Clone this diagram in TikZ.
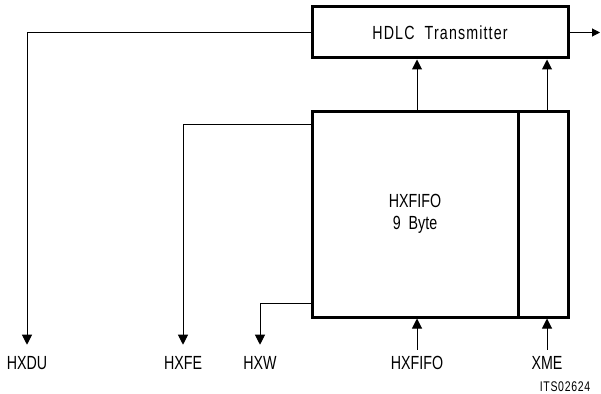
\documentclass[tikz,border=0pt]{standalone}
\usepackage{fontspec}
\setmainfont{Liberation Sans}[FakeStretch=0.75]
\usetikzlibrary{arrows.meta}
\begin{document}
\begin{tikzpicture}[x=1pt,y=-1pt,
  blk/.style={draw,line width=3pt,inner sep=0pt,font=\fontsize{19}{22}\selectfont,align=center},
  lab/.style={inner sep=0pt,anchor=base,font=\fontsize{19}{20}\selectfont},
  conn/.style={line width=1pt},
  arr/.style={conn,-{Triangle[width=10pt,length=10pt]}}]
\useasboundingbox (0,0) rectangle (601,393);
% blocks
\node[blk,minimum width=256pt,minimum height=51pt] (hdlc) at (440,32.5) {\addfontfeature{LetterSpace=6}HDLC\ \ Transmitter};
\node[blk,minimum width=206pt,minimum height=206pt] (fifo) at (415,214) {HXFIFO\\9\ \ Byte};
\node[blk,minimum width=50pt,minimum height=206pt] (xme) at (543,214) {};
% labels
\node[lab] (ldu) at (27,369) {HXDU};
\node[lab] (lfe) at (183,369) {HXFE};
\node[lab] (lw) at (260,369) {HXW};
\node[lab] (lfifo) at (417,369) {HXFIFO};
\node[lab] (lxme) at (547,369) {XME};
\node[lab,font=\fontsize{14}{16}\selectfont\addfontfeature{LetterSpace=5}] (its) at (565,391) {ITS02624};
% tips
\coordinate (tdu) at ([yshift=11pt]ldu.north);
\coordinate (tfe) at ([yshift=11pt]lfe.north);
\coordinate (tw) at ([yshift=11pt]lw.north);
\coordinate (sfifo) at ([yshift=6pt]lfifo.north);
\coordinate (sxme) at ([yshift=6pt]lxme.north);
\coordinate (out) at (600,32.5);
% connectors
\draw[arr] (hdlc.west) -| (tdu);
\draw[arr] ([yshift=-15pt]fifo.north west) -| (tfe);
\draw[arr] ([yshift=15pt]fifo.south west) -| (tw);
\draw[arr] (sfifo) -- (sfifo |- fifo.south);
\draw[arr] (sxme) -- (sxme |- xme.south);
\draw[arr] (lfifo |- fifo.north) -- (lfifo |- hdlc.south);
\draw[arr] (lxme |- xme.north) -- (lxme |- hdlc.south);
\draw[conn,-{Triangle[width=8pt,length=8pt]}] (hdlc.east) -- (out);
\end{tikzpicture}
\end{document}
